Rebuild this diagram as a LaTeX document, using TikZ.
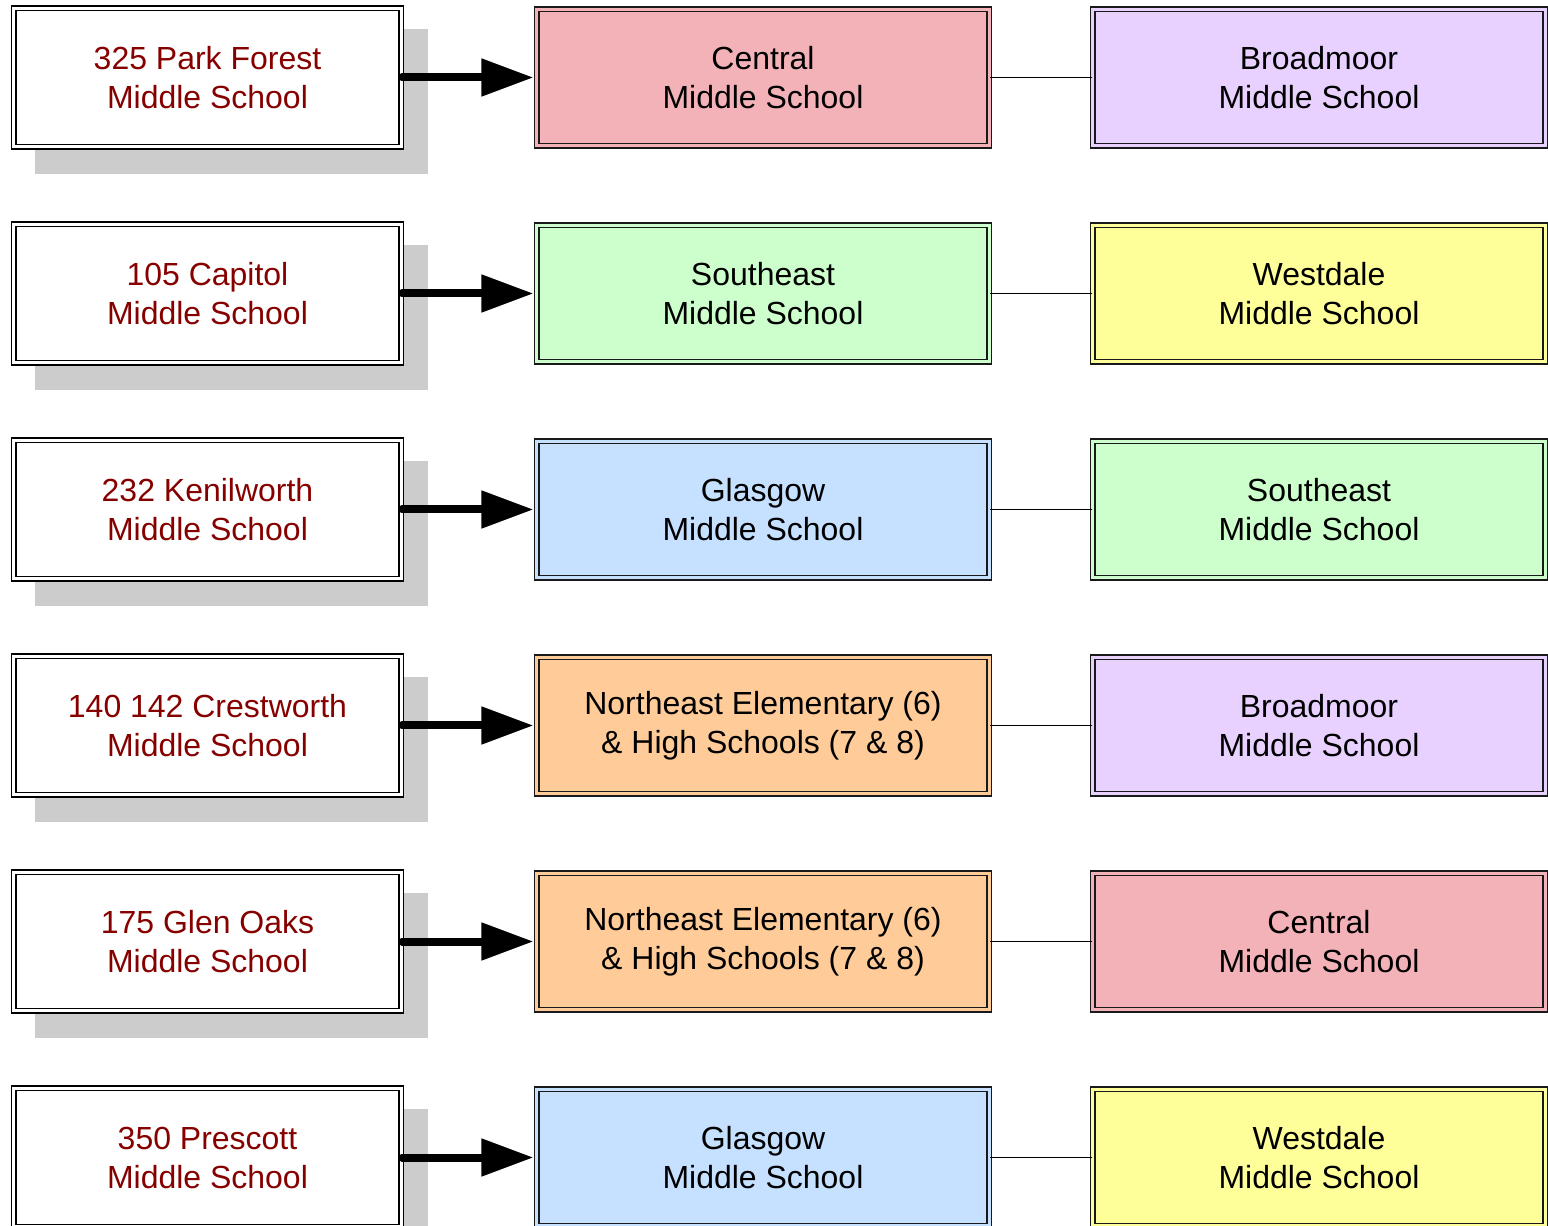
\documentclass[tikz,border=0pt]{standalone}
\usepackage{fontspec}
\setmainfont{Liberation Sans}
\usetikzlibrary{arrows.meta,shadows}

\definecolor{addrred}{RGB}{135,0,0}
\definecolor{pinkfill}{RGB}{243,177,184}
\definecolor{lilacfill}{RGB}{232,209,255}
\definecolor{greenfill}{RGB}{204,255,204}
\definecolor{yellowfill}{RGB}{255,255,153}
\definecolor{bluefill}{RGB}{198,224,255}
\definecolor{orangefill}{RGB}{255,204,153}

\begin{document}
\begin{tikzpicture}[>={Triangle[length=1.04cm,width=0.72cm]},node distance=4.32cm,
    font=\fontsize{18.2}{22.2}\selectfont,
    old school/.style={draw,double,double distance=0.055cm,line width=0.032cm,fill=white,text=addrred,
        minimum width=7.75cm,minimum height=2.77cm,align=center,
        drop shadow={shadow xshift=0.48cm,shadow yshift=-0.48cm,opacity=1,fill=black!20,draw=black!20,line width=0.12cm}},
    new school/.style={draw=black!90,double=#1,double distance=0.055cm,line width=0.032cm,fill=#1,
        minimum width=9.05cm,minimum height=2.73cm,align=center},
    moved/.style={->,line width=0.16cm,line cap=round,shorten >=0.05cm},
    paired/.style={-,line width=0.03cm}]

    \useasboundingbox (0,0) rectangle (30.96,-24.52);

    \node[old school] (l1) at (4.15,-1.55) {325 Park Forest\\Middle School};
    \node[old school] (l2) [below of = l1] {105 Capitol\\Middle School};
    \node[old school] (l3) [below of = l2] {232 Kenilworth\\Middle School};
    \node[old school] (l4) [below of = l3] {140 142 Crestworth\\Middle School};
    \node[old school] (l5) [below of = l4] {175 Glen Oaks\\Middle School};
    \node[old school] (l6) [below of = l5] {350 Prescott\\Middle School};

    \node[new school=pinkfill] (m1) [right of = l1, node distance=11.11cm] {Central\\Middle School};
    \node[new school=greenfill] (m2) [right of = l2, node distance=11.11cm] {Southeast\\Middle School};
    \node[new school=bluefill] (m3) [right of = l3, node distance=11.11cm] {Glasgow\\Middle School};
    \node[new school=orangefill] (m4) [right of = l4, node distance=11.11cm] {Northeast Elementary (6)\\\& High Schools (7 \& 8)};
    \node[new school=orangefill] (m5) [right of = l5, node distance=11.11cm] {Northeast Elementary (6)\\\& High Schools (7 \& 8)};
    \node[new school=bluefill] (m6) [right of = l6, node distance=11.11cm] {Glasgow\\Middle School};

    \node[new school=lilacfill] (r1) [right of = m1, node distance=11.12cm] {Broadmoor\\Middle School};
    \node[new school=yellowfill] (r2) [right of = m2, node distance=11.12cm] {Westdale\\Middle School};
    \node[new school=greenfill] (r3) [right of = m3, node distance=11.12cm] {Southeast\\Middle School};
    \node[new school=lilacfill] (r4) [right of = m4, node distance=11.12cm] {Broadmoor\\Middle School};
    \node[new school=pinkfill] (r5) [right of = m5, node distance=11.12cm] {Central\\Middle School};
    \node[new school=yellowfill] (r6) [right of = m6, node distance=11.12cm] {Westdale\\Middle School};

    \path
        (l1) edge[moved] (m1)
        (l2) edge[moved] (m2)
        (l3) edge[moved] (m3)
        (l4) edge[moved] (m4)
        (l5) edge[moved] (m5)
        (l6) edge[moved] (m6)
        (m1) edge[paired] (r1)
        (m2) edge[paired] (r2)
        (m3) edge[paired] (r3)
        (m4) edge[paired] (r4)
        (m5) edge[paired] (r5)
        (m6) edge[paired] (r6)
        ;
\end{tikzpicture}
\end{document}
